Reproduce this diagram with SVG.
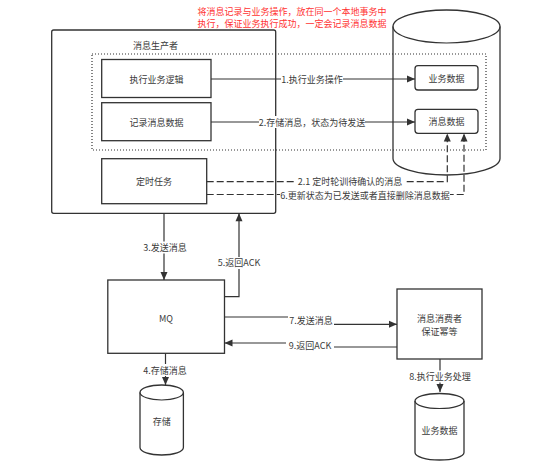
<svg xmlns="http://www.w3.org/2000/svg" width="557" height="467" viewBox="0 0 557 467">
<style>
  text { font-family: "Noto Sans CJK SC", "Noto Sans", sans-serif; font-size: 9px; fill: #3a3a3a; text-anchor: middle; dominant-baseline: central; }
  .box { fill: #fff; stroke: #333; stroke-width: 1.3; }
  .db { fill: #fff; stroke: #333; stroke-width: 1.3; }
  .dot { fill: none; stroke: #333; stroke-width: 1.2; stroke-dasharray: 1 2; }
  .ln { fill: none; stroke: #333; stroke-width: 1.2; }
  .dash { stroke-dasharray: 7 3; }
  .lbg { fill: #fff; }
  .red { fill: #ff3333; }
</style>
<defs>
  <marker id="ah" markerUnits="userSpaceOnUse" markerWidth="10" markerHeight="10" viewBox="0 0 10 10" refX="9" refY="5" orient="auto">
    <path d="M1,1.5 L9,5 L1,8.5 Z" fill="#333" stroke="none"/>
  </marker>
</defs>
<rect width="557" height="467" fill="#fff"/>

<g id="note">
  <text class="red" x="292" y="11.5">将消息记录与业务操作，放在同一个本地事务中</text>
  <text class="red" x="292" y="23">执行，保证业务执行成功，一定会记录消息数据</text>
</g>

<g id="db-main">
  <path class="db" d="M393,26.5 A53.5,16.5 0 0 1 500,26.5 V158.5 A53.5,16.5 0 0 1 393,158.5 Z"/>
  <path class="ln" d="M393,26.5 A53.5,16.5 0 0 0 500,26.5"/>
</g>
<g id="biz-data">
  <rect class="box" x="415" y="65.7" width="63" height="24.3" rx="3"/>
  <text x="446.5" y="78">业务数据</text>
</g>
<g id="msg-data">
  <rect class="box" x="415" y="109.3" width="63" height="24" rx="3"/>
  <text x="446.5" y="121.5">消息数据</text>
</g>

<g id="producer">
  <rect class="box" x="51.7" y="30" width="224" height="183.3" rx="2"/>
  <text x="155.5" y="45.7">消息生产者</text>
</g>
<g id="biz-logic">
  <rect class="box" x="101.7" y="59.5" width="109.3" height="38"/>
  <text x="156.5" y="79">执行业务逻辑</text>
</g>
<g id="record-msg">
  <rect class="box" x="101.7" y="102.7" width="109.3" height="38"/>
  <text x="156.5" y="122">记录消息数据</text>
</g>
<g id="timer">
  <rect class="box" x="101.7" y="158.7" width="105" height="45"/>
  <text x="154" y="181.5">定时任务</text>
</g>
<g id="local-tx">
  <rect class="dot" x="92" y="54" width="394" height="96"/>
</g>

<g id="mq">
  <rect class="box" x="107.8" y="280" width="116.7" height="73.3"/>
  <text x="166" y="318">MQ</text>
</g>
<g id="consumer">
  <rect class="box" x="397" y="289" width="85" height="70"/>
  <text x="439.5" y="318.5">消息消费者</text>
  <text x="439.5" y="331.5">保证幂等</text>
</g>
<g id="storage">
  <path class="db" d="M140,392.5 A21.7,7.5 0 0 1 183.4,392.5 V447.5 A21.7,7.5 0 0 1 140,447.5 Z"/>
  <path class="ln" d="M140,392.5 A21.7,7.5 0 0 0 183.4,392.5"/>
  <text x="161.7" y="421.5">存储</text>
</g>
<g id="consumer-db">
  <path class="db" d="M415,401 A24.5,7.5 0 0 1 464,401 V452.5 A24.5,7.5 0 0 1 415,452.5 Z"/>
  <path class="ln" d="M415,401 A24.5,7.5 0 0 0 464,401"/>
  <text x="439.5" y="430">业务数据</text>
</g>

<g id="connectors">
  <path class="ln" d="M211,79 H415" marker-end="url(#ah)"/>
  <path class="ln" d="M211,122 H415" marker-end="url(#ah)"/>
  <path class="ln dash" d="M206.7,181.7 H447.3 V133.5" marker-end="url(#ah)"/>
  <path class="ln dash" d="M206.7,194.5 H464 V133.5" marker-end="url(#ah)"/>
  <path class="ln" d="M164,213.3 V280" marker-end="url(#ah)"/>
  <path class="ln" d="M224.5,296.7 H239 V213.3" marker-end="url(#ah)"/>
  <path class="ln" d="M224.5,317 H311 V324.3 H397" marker-end="url(#ah)"/>
  <path class="ln" d="M397,347 H310 V343 H224.5" marker-end="url(#ah)"/>
  <path class="ln" d="M165.5,353.3 V385" marker-end="url(#ah)"/>
  <path class="ln" d="M440,359 V392" marker-end="url(#ah)"/>

  <rect class="lbg" x="281" y="73" width="62" height="12"/>
  <text x="312" y="79">1.执行业务操作</text>
  <rect class="lbg" x="259" y="116" width="106" height="12"/>
  <text x="312" y="122">2.存储消息，状态为待发送</text>
  <rect class="lbg" x="296" y="176" width="108" height="11.5"/>
  <text x="350" y="181.7">2.1 定时轮训待确认的消息</text>
  <rect class="lbg" x="280" y="189" width="170" height="11.5"/>
  <text x="365" y="195">6.更新状态为已发送或者直接删除消息数据</text>
  <rect class="lbg" x="142" y="241.5" width="46" height="12"/>
  <text x="165" y="247.3">3.发送消息</text>
  <rect class="lbg" x="215" y="257" width="48" height="12"/>
  <text x="239" y="262.7">5.返回ACK</text>
  <rect class="lbg" x="288" y="314.5" width="46" height="12.5"/>
  <text x="311" y="320.7">7.发送消息</text>
  <rect class="lbg" x="286" y="339" width="48" height="12"/>
  <text x="310" y="345.3">9.返回ACK</text>
  <rect class="lbg" x="142" y="364" width="46" height="12"/>
  <text x="165" y="370">4.存储消息</text>
  <rect class="lbg" x="409" y="370.5" width="62" height="12"/>
  <text x="440" y="376.5">8.执行业务处理</text>
</g>
</svg>
